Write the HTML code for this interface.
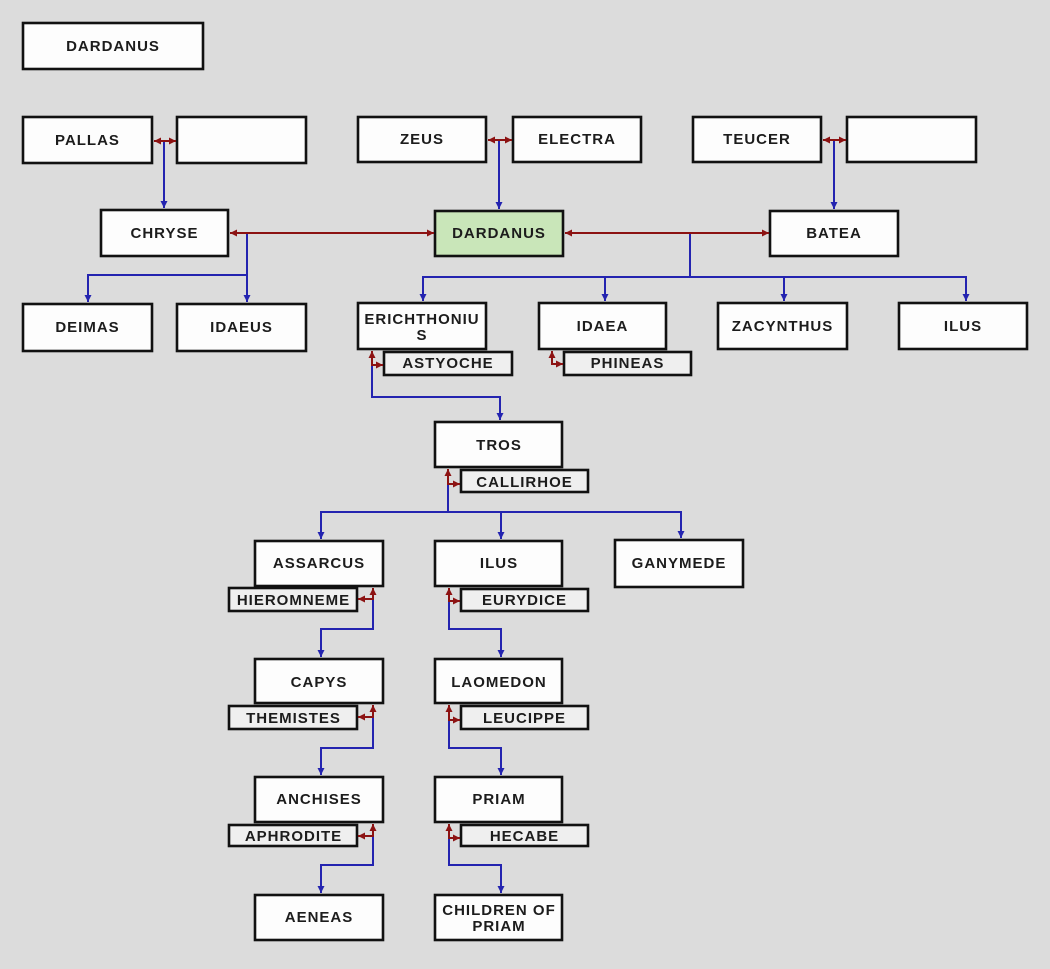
<!DOCTYPE html>
<html>
<head>
<meta charset="utf-8">
<style>
  html,body{margin:0;padding:0;background:#dcdcdc;}
  svg{display:block;}
  .b{fill:#fdfdfd;stroke:#111;stroke-width:2.6;}
  .p{fill:#efefef;stroke:#111;stroke-width:2.6;}
  .g{fill:#c9e6b9;stroke:#111;stroke-width:2.6;}
  text{font-family:"Liberation Sans",Arial,sans-serif;font-weight:bold;font-size:15px;letter-spacing:1px;fill:#1c1c1c;text-anchor:middle;}
  .bl{fill:none;stroke:#2424b0;stroke-width:2;}
  .rd{fill:none;stroke:#8c1212;stroke-width:2;}
</style>
</head>
<body>
<svg width="1050" height="969" viewBox="0 0 1050 969" xmlns="http://www.w3.org/2000/svg">
<defs>
  <marker id="ab" markerUnits="userSpaceOnUse" markerWidth="8" markerHeight="8" refX="7" refY="4" orient="auto">
    <path d="M0,0.5 L7,4 L0,7.5 z" fill="#2424b0"/>
  </marker>
  <marker id="ar" markerUnits="userSpaceOnUse" markerWidth="8" markerHeight="8" refX="7" refY="4" orient="auto-start-reverse">
    <path d="M0,0.5 L7,4 L0,7.5 z" fill="#8c1212"/>
  </marker>
</defs>
<rect x="0" y="0" width="1050" height="969" fill="#dcdcdc"/>

<!-- main boxes -->
<rect class="b" x="23" y="23" width="180" height="46"/><text x="113" y="51">DARDANUS</text>
<rect class="b" x="23" y="117" width="129" height="46"/><text x="87.5" y="145">PALLAS</text>
<rect class="b" x="177" y="117" width="129" height="46"/>
<rect class="b" x="358" y="117" width="128" height="45"/><text x="422" y="144">ZEUS</text>
<rect class="b" x="513" y="117" width="128" height="45"/><text x="577" y="144">ELECTRA</text>
<rect class="b" x="693" y="117" width="128" height="45"/><text x="757" y="144">TEUCER</text>
<rect class="b" x="847" y="117" width="129" height="45"/>

<rect class="b" x="101" y="210" width="127" height="46"/><text x="164.5" y="238">CHRYSE</text>
<rect class="g" x="435" y="211" width="128" height="45"/><text x="499" y="238">DARDANUS</text>
<rect class="b" x="770" y="211" width="128" height="45"/><text x="834" y="238">BATEA</text>

<rect class="b" x="23" y="304" width="129" height="47"/><text x="87.5" y="332">DEIMAS</text>
<rect class="b" x="177" y="304" width="129" height="47"/><text x="241.5" y="332">IDAEUS</text>
<rect class="b" x="358" y="303" width="128" height="46"/><text x="422" y="324">ERICHTHONIU</text><text x="422" y="340">S</text>
<rect class="b" x="539" y="303" width="127" height="46"/><text x="602.5" y="331">IDAEA</text>
<rect class="b" x="718" y="303" width="129" height="46"/><text x="782.5" y="331">ZACYNTHUS</text>
<rect class="b" x="899" y="303" width="128" height="46"/><text x="963" y="331">ILUS</text>

<rect class="p" x="384" y="352" width="128" height="23"/><text x="448" y="368">ASTYOCHE</text>
<rect class="p" x="564" y="352" width="127" height="23"/><text x="627.5" y="368">PHINEAS</text>

<rect class="b" x="435" y="422" width="127" height="45"/><text x="499" y="450">TROS</text>
<rect class="p" x="461" y="470" width="127" height="22"/><text x="524.5" y="487">CALLIRHOE</text>

<rect class="b" x="255" y="541" width="128" height="45"/><text x="319" y="568">ASSARCUS</text>
<rect class="p" x="229" y="588" width="128" height="23"/><text x="293.5" y="605">HIEROMNEME</text>
<rect class="b" x="435" y="541" width="127" height="45"/><text x="499" y="568">ILUS</text>
<rect class="p" x="461" y="589" width="127" height="22"/><text x="524.5" y="605">EURYDICE</text>
<rect class="b" x="615" y="540" width="128" height="47"/><text x="679" y="568">GANYMEDE</text>

<rect class="b" x="255" y="659" width="128" height="44"/><text x="319" y="687">CAPYS</text>
<rect class="p" x="229" y="706" width="128" height="23"/><text x="293.5" y="723">THEMISTES</text>
<rect class="b" x="435" y="659" width="127" height="44"/><text x="499" y="687">LAOMEDON</text>
<rect class="p" x="461" y="706" width="127" height="23"/><text x="524.5" y="723">LEUCIPPE</text>

<rect class="b" x="255" y="777" width="128" height="45"/><text x="319" y="804">ANCHISES</text>
<rect class="p" x="229" y="825" width="128" height="21"/><text x="293.5" y="841">APHRODITE</text>
<rect class="b" x="435" y="777" width="127" height="45"/><text x="499" y="804">PRIAM</text>
<rect class="p" x="461" y="825" width="127" height="21"/><text x="524.5" y="841">HECABE</text>

<rect class="b" x="255" y="895" width="128" height="45"/><text x="319" y="922">AENEAS</text>
<rect class="b" x="435" y="895" width="127" height="45"/><text x="499" y="915">CHILDREN OF</text><text x="499" y="931">PRIAM</text>

<!-- blue descent lines -->
<g class="bl">
  <path d="M164,141 V208" marker-end="url(#ab)"/>
  <path d="M499,140 V209" marker-end="url(#ab)"/>
  <path d="M834,140 V209" marker-end="url(#ab)"/>
  <path d="M247,233 V302" marker-end="url(#ab)"/>
  <path d="M247,275 H88 V302" marker-end="url(#ab)"/>
  <path d="M690,233 V277 H423 V301" marker-end="url(#ab)"/>
  <path d="M690,277 H966 V301" marker-end="url(#ab)"/>
  <path d="M605,277 V301" marker-end="url(#ab)"/>
  <path d="M784,277 V301" marker-end="url(#ab)"/>
  <path d="M372,365 V397 H500 V420" marker-end="url(#ab)"/>
  <path d="M448,484 V512 H321 V539" marker-end="url(#ab)"/>
  <path d="M448,512 H681 V538" marker-end="url(#ab)"/>
  <path d="M501,512 V539" marker-end="url(#ab)"/>
  <path d="M373,599 V629 H321 V657" marker-end="url(#ab)"/>
  <path d="M449,601 V629 H501 V657" marker-end="url(#ab)"/>
  <path d="M373,717 V748 H321 V775" marker-end="url(#ab)"/>
  <path d="M449,720 V748 H501 V775" marker-end="url(#ab)"/>
  <path d="M373,836 V865 H321 V893" marker-end="url(#ab)"/>
  <path d="M449,838 V865 H501 V893" marker-end="url(#ab)"/>
</g>

<!-- red marriage lines -->
<g class="rd">
  <path d="M154,141 H176" marker-start="url(#ar)" marker-end="url(#ar)"/>
  <path d="M488,140 H512" marker-start="url(#ar)" marker-end="url(#ar)"/>
  <path d="M823,140 H846" marker-start="url(#ar)" marker-end="url(#ar)"/>
  <path d="M230,233 H434" marker-start="url(#ar)" marker-end="url(#ar)"/>
  <path d="M565,233 H769" marker-start="url(#ar)" marker-end="url(#ar)"/>
  <path d="M383,365 H372 V351" marker-start="url(#ar)" marker-end="url(#ar)"/>
  <path d="M563,364 H552 V351" marker-start="url(#ar)" marker-end="url(#ar)"/>
  <path d="M460,484 H448 V469" marker-start="url(#ar)" marker-end="url(#ar)"/>
  <path d="M358,599 H373 V588" marker-start="url(#ar)" marker-end="url(#ar)"/>
  <path d="M460,601 H449 V588" marker-start="url(#ar)" marker-end="url(#ar)"/>
  <path d="M358,717 H373 V705" marker-start="url(#ar)" marker-end="url(#ar)"/>
  <path d="M460,720 H449 V705" marker-start="url(#ar)" marker-end="url(#ar)"/>
  <path d="M358,836 H373 V824" marker-start="url(#ar)" marker-end="url(#ar)"/>
  <path d="M460,838 H449 V824" marker-start="url(#ar)" marker-end="url(#ar)"/>
</g>
</svg>
</body>
</html>
